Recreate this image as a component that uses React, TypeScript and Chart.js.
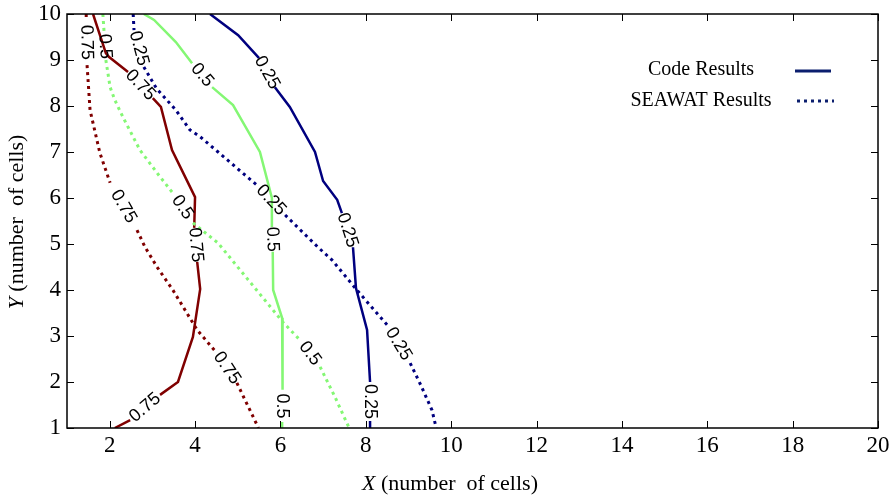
import React, { useEffect, useRef } from 'react';
import { Chart, registerables } from 'chart.js';
Chart.register(...registerables);

const X_TICKS = [2, 4, 6, 8, 10, 12, 14, 16, 18, 20];
const Y_TICKS = [1, 2, 3, 4, 5, 6, 7, 8, 9, 10];
const LEGEND_LABELS = ['Code Results', 'SEAWAT Results'];

// null marks a break in the contour where its level label is written
const CODE_025_X = [4.35, 5.01, 5.5, null, 5.87, 6.22, 6.81, 7.0, 7.33, 7.44, null, 7.7, 7.77, 8.03, 8.1, null, 8.1, 8.1];
const CODE_025_Y = [10, 9.54, 9.04, null, 8.41, 7.98, 7.0, 6.37, 5.96, 5.67, null, 4.93, 4.04, 3.13, 2.0, null, 1.15, 1.0];

const SEAWAT_025_X = [2.55, 2.57, null, 2.8, 3.09, 3.55, 3.88, 4.12, 4.54, 4.98, 5.45, null, 6.11, 6.88, 7.21, 7.79, 8.5, null, 9.04, 9.29, 9.55, 9.65];
const SEAWAT_025_Y = [10, 9.65, null, 8.85, 8.39, 7.91, 7.48, 7.33, 7.0, 6.65, 6.28, null, 5.63, 4.93, 4.65, 4.0, 3.24, null, 2.41, 1.93, 1.39, 1.0];

const CODE_05_X = [2.8, 3.04, 3.55, 3.93, null, 4.4, 4.89, 5.52, 5.8, 5.8, null, 5.82, 5.83, 6.04, 6.06, 6.04, null, 6.04, 6.04];
const CODE_05_Y = [10, 9.87, 9.39, 8.93, null, 8.41, 8.02, 7.0, 6.0, 5.37, null, 4.83, 4.0, 3.39, 2.98, 1.83, null, 1.13, 1.0];

const SEAWAT_05_X = [1.84, 1.87, null, 1.91, 2.01, 2.12, 2.31, 2.71, 3.18, 3.46, null, 3.95, 4.54, 5.29, 6.06, 6.46, null, 6.93, 7.28, 7.61];
const SEAWAT_05_Y = [10, 9.59, null, 9.0, 8.41, 8.13, 7.76, 7.04, 6.46, 6.13, null, 5.46, 5.02, 4.17, 3.3, 2.91, null, 2.33, 1.67, 1.0];

const CODE_075_X = [1.61, 1.91, 1.98, 2.43, null, 3.01, 3.2, 3.46, 4.0, 3.98, null, 4.05, 4.12, 3.95, 3.6, 3.18, null, 2.48, 2.12];
const CODE_075_Y = [10, 9.15, 9.07, 8.74, null, 8.17, 7.98, 7.04, 6.02, 5.35, null, 4.61, 4.02, 2.98, 2.0, 1.72, null, 1.17, 1.0];

const SEAWAT_075_X = [1.45, 1.45, null, 1.47, 1.54, 1.77, 2.01, null, 2.64, 2.83, 3.11, 3.48, 4.05, 4.51, null, 4.98, 5.45, 5.48];
const SEAWAT_075_Y = [10, 9.87, null, 8.89, 7.91, 6.98, 6.33, null, 5.3, 4.93, 4.5, 4.0, 3.13, 2.63, null, 1.98, 1.07, 1.0];

const BLUE = '#00007f';
const GREEN = '#84f774';
const RED = '#800000';

function pts(xs: (number | null)[], ys: (number | null)[]) {
  return xs.map((x, i) => (x === null || ys[i] === null ? { x: NaN, y: null } : { x, y: ys[i] }));
}

function series(label: string, level: string, xs: any[], ys: any[], color: string, dotted: boolean) {
  return {
    label,
    level,
    data: pts(xs, ys),
    borderColor: color,
    backgroundColor: color,
    borderWidth: dotted ? 3 : 2.5,
    borderDash: dotted ? [3, 4] : [],
    pointRadius: 0,
    tension: 0,
    spanGaps: false,
    fill: false,
  } as any;
}

const serif = "'Liberation Serif', 'Times New Roman', serif";

const overlay = {
  id: 'overlay',
  afterDatasetsDraw(chart: any) {
    const ctx = chart.ctx;
    ctx.save();
    ctx.font = "18px 'Liberation Sans', Arial, sans-serif";
    ctx.fillStyle = '#000';
    ctx.textAlign = 'center';
    ctx.textBaseline = 'middle';
    chart.data.datasets.forEach((ds: any, di: number) => {
      const meta = chart.getDatasetMeta(di);
      ds.data.forEach((p: any, i: number) => {
        if (p.y !== null) return;
        const a = meta.data[i - 1];
        const b = meta.data[i + 1];
        if (!a || !b) return;
        const cx = (a.x + b.x) / 2;
        const cy = (a.y + b.y) / 2;
        let ang = Math.atan2(b.y - a.y, b.x - a.x);
        if (ang > Math.PI / 2 + 0.001) ang -= Math.PI;
        if (ang < -Math.PI / 2) ang += Math.PI;
        ctx.save();
        ctx.translate(cx, cy);
        ctx.rotate(ang);
        ctx.fillText(ds.level, 0, 0);
        ctx.restore();
      });
    });
    ctx.restore();
  },
  afterDraw(chart: any) {
    const ctx = chart.ctx;
    const { left, right, top, bottom } = chart.chartArea;
    const xs = chart.scales.x;
    const ys = chart.scales.y;
    ctx.save();
    // frame
    ctx.strokeStyle = '#000';
    ctx.lineWidth = 1.5;
    ctx.strokeRect(left, top, right - left, bottom - top);
    // inward ticks
    ctx.lineWidth = 1;
    const tl = 7;
    ctx.beginPath();
    X_TICKS.forEach((v) => {
      const px = Math.round(xs.getPixelForValue(v)) + 0.5;
      ctx.moveTo(px, bottom);
      ctx.lineTo(px, bottom - tl);
      ctx.moveTo(px, top);
      ctx.lineTo(px, top + tl);
    });
    Y_TICKS.forEach((v) => {
      const py = Math.round(ys.getPixelForValue(v)) + 0.5;
      ctx.moveTo(left, py);
      ctx.lineTo(left + tl, py);
      ctx.moveTo(right, py);
      ctx.lineTo(right - tl, py);
    });
    ctx.stroke();

    // legend
    ctx.fillStyle = '#000';
    ctx.font = `20px ${serif}`;
    ctx.textAlign = 'center';
    ctx.textBaseline = 'middle';
    ctx.fillText(LEGEND_LABELS[0], 701, 70);
    ctx.fillText(LEGEND_LABELS[1], 701, 101);
    ctx.strokeStyle = '#0b1e6e';
    ctx.lineWidth = 3;
    ctx.beginPath();
    ctx.moveTo(795, 71);
    ctx.lineTo(831, 71);
    ctx.stroke();
    ctx.setLineDash([3, 4]);
    ctx.beginPath();
    ctx.moveTo(797, 101);
    ctx.lineTo(834, 101);
    ctx.stroke();
    ctx.setLineDash([]);

    // axis titles
    const drawTitle = (cx: number, cy: number, letter: string, rest: string) => {
      ctx.font = `italic 22px ${serif}`;
      const w1 = ctx.measureText(letter).width;
      ctx.font = `22px ${serif}`;
      const w2 = ctx.measureText(rest).width;
      const start = cx - (w1 + w2) / 2;
      ctx.textAlign = 'left';
      ctx.textBaseline = 'middle';
      ctx.font = `italic 22px ${serif}`;
      ctx.fillText(letter, start, cy);
      ctx.font = `22px ${serif}`;
      ctx.fillText(rest, start + w1, cy);
    };
    drawTitle(450, 484, 'X', ' (number  of cells)');
    ctx.save();
    ctx.translate(17, 222);
    ctx.rotate(-Math.PI / 2);
    drawTitle(0, 0, 'Y', ' (number  of cells)');
    ctx.restore();
    ctx.restore();
  },
};

export default function App() {
  const ref = useRef<HTMLCanvasElement>(null);
  useEffect(() => {
    document.body.style.margin = '0';
    const chart = new Chart(ref.current as HTMLCanvasElement, {
      type: 'line',
      data: {
        datasets: [
          series('Code 0.25', '0.25', CODE_025_X, CODE_025_Y, BLUE, false),
          series('SEAWAT 0.25', '0.25', SEAWAT_025_X, SEAWAT_025_Y, BLUE, true),
          series('Code 0.5', '0.5', CODE_05_X, CODE_05_Y, GREEN, false),
          series('SEAWAT 0.5', '0.5', SEAWAT_05_X, SEAWAT_05_Y, GREEN, true),
          series('Code 0.75', '0.75', CODE_075_X, CODE_075_Y, RED, false),
          series('SEAWAT 0.75', '0.75', SEAWAT_075_X, SEAWAT_075_Y, RED, true),
        ],
      },
      options: {
        animation: false,
        responsive: false,
        layout: { padding: { left: 0, top: 14, right: 15, bottom: 0 } },
        plugins: { legend: { display: false }, tooltip: { enabled: false } },
        scales: {
          x: {
            type: 'linear',
            min: 1,
            max: 20,
            grid: { display: false, drawTicks: false },
            border: { display: false },
            afterBuildTicks: (s: any) => {
              s.ticks = X_TICKS.map((v) => ({ value: v }));
            },
            afterFit: (s: any) => {
              s.height = 69;
              s.paddingLeft = 0;
              s.paddingRight = 0;
            },
            ticks: {
              color: '#000',
              font: { family: serif, size: 23 },
              padding: 4,
              maxRotation: 0,
              autoSkip: false,
            },
          },
          y: {
            type: 'linear',
            min: 1,
            max: 10,
            grid: { display: false, drawTicks: false },
            border: { display: false },
            afterBuildTicks: (s: any) => {
              s.ticks = Y_TICKS.map((v) => ({ value: v }));
            },
            afterFit: (s: any) => {
              s.width = 67;
              s.paddingTop = 0;
              s.paddingBottom = 0;
            },
            ticks: {
              color: '#000',
              font: { family: serif, size: 23 },
              padding: 6,
              autoSkip: false,
            },
          },
        },
      } as any,
      plugins: [overlay],
    });
    return () => chart.destroy();
  }, []);
  return (
    <div style={{ width: 893, height: 497 }}>
      <canvas ref={ref} width={893} height={497} />
    </div>
  );
}
